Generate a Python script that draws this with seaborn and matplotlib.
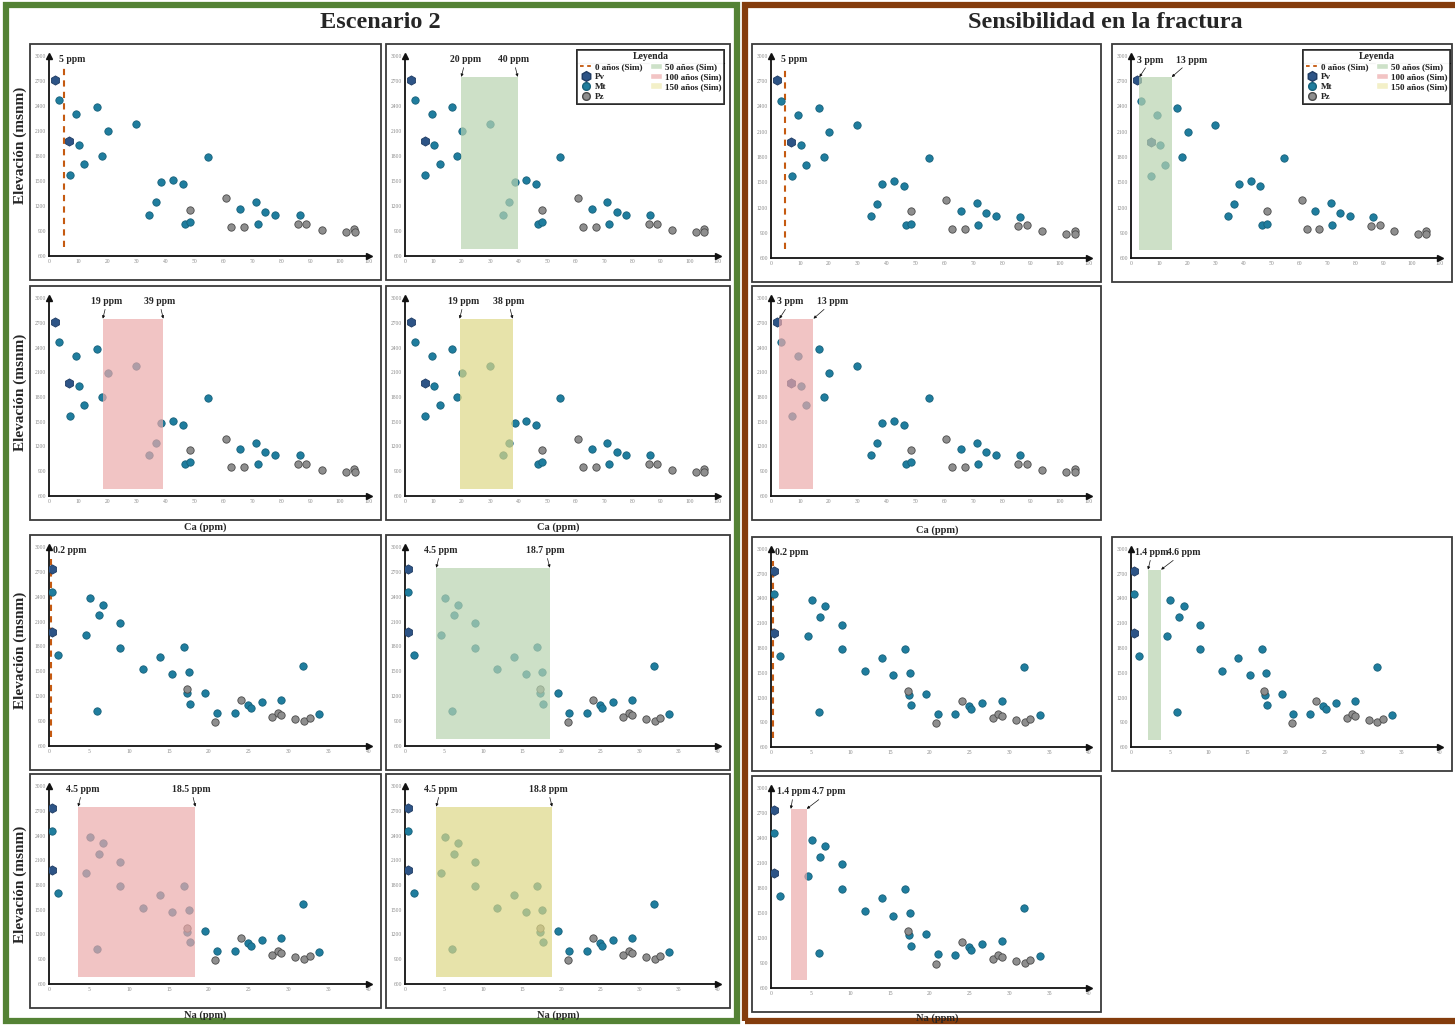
import pandas as pd
import seaborn as sns
import matplotlib.pyplot as plt
from matplotlib.patches import Rectangle, Patch
from matplotlib.lines import Line2D

# Ca (ppm) vs elevación
ca_pv_x = [2.0, 7.0]
ca_pv_y = [2710, 1975]
ca_mt_x = [3.4, 9.4, 16.5, 10.3, 20.2, 29.8, 18.3, 12.2, 7.1, 54.6, 38.5, 42.6,
           46.0, 36.7, 34.5, 46.7, 48.3, 65.6, 71.1, 71.7, 74.4, 77.8, 86.2]
ca_mt_y = [2467, 2298, 2384, 1937, 2096, 2180, 1800, 1708, 1571, 1784, 1484, 1512,
           1460, 1243, 1096, 987, 1007, 1164, 1248, 987, 1132, 1096, 1092]
ca_pz_x = [48.3, 60.7, 62.7, 67.1, 85.6, 88.5, 93.7, 102.2, 105.0, 105.1]
ca_pz_y = [1156, 1292, 950, 950, 983, 990, 918, 890, 922, 886]

# Na (ppm) vs elevación
na_pv_x = [0.4, 0.4]
na_pv_y = [2732, 1980]
na_mt_x = [0.4, 1.1, 5.1, 4.6, 6.2, 6.8, 8.9, 8.9, 6.0, 11.8, 13.9, 15.4, 16.9,
           17.5, 17.3, 17.6, 19.5, 21.0, 23.2, 24.9, 25.2, 26.6, 29.0, 31.8, 33.8]
na_mt_y = [2460, 1700, 2380, 1944, 2176, 2304, 2084, 1784, 1020, 1524, 1676, 1468, 1792,
           1496, 1236, 1104, 1244, 1004, 996, 1096, 1056, 1132, 1160, 1564, 984]
na_pz_x = [17.2, 20.8, 24.0, 27.9, 28.6, 29.0, 30.8, 31.9, 32.6]
na_pz_y = [1284, 888, 1152, 948, 1000, 972, 928, 900, 936]

ca_ticks = list(range(0, 111, 10))
na_ticks = list(range(0, 41, 5))
elev_ticks = list(range(600, 3001, 300))

# simulaciones: umbral 0 años y rangos 50/100/150 años
ca_line, na_line = 5, 0.2
esc_ca_spans = [(19.8, 39.6), (18.5, 39.3), (19.2, 37.8)]
esc_ca_labels = [("20 ppm", "40 ppm"), ("19 ppm", "39 ppm"), ("19 ppm", "38 ppm")]
esc_na_spans = [(4.0, 18.5), (3.65, 18.3), (4.0, 18.8)]
esc_na_labels = [("4.5 ppm", "18.7 ppm"), ("4.5 ppm", "18.5 ppm"), ("4.5 ppm", "18.8 ppm")]
sen_ca_spans = [(3.0, 14.5), (2.9, 14.7)]
sen_ca_labels = [("3 ppm", "13 ppm"), ("3 ppm", "13 ppm")]
sen_na_spans = [(2.2, 3.9), (2.5, 4.5)]
sen_na_labels = [("1.4 ppm", "4.6 ppm"), ("1.4 ppm", "4.7 ppm")]
span_elev = (690, 2750)


def make_df(pv_x, pv_y, mt_x, mt_y, pz_x, pz_y):
    return pd.concat([
        pd.DataFrame({'x': pv_x, 'elev': pv_y, 'tipo': 'Pv'}),
        pd.DataFrame({'x': mt_x, 'elev': mt_y, 'tipo': 'Mt'}),
        pd.DataFrame({'x': pz_x, 'elev': pz_y, 'tipo': 'Pz'}),
    ], ignore_index=True)


ca_df = make_df(ca_pv_x, ca_pv_y, ca_mt_x, ca_mt_y, ca_pz_x, ca_pz_y)
na_df = make_df(na_pv_x, na_pv_y, na_mt_x, na_mt_y, na_pz_x, na_pz_y)

sns.set_theme(style='white')
plt.rcParams['font.family'] = ['Liberation Serif', 'DejaVu Serif']

W, H = 1455, 1025
fig = plt.figure(figsize=(W / 100, H / 100), dpi=100)
fig.patch.set_facecolor('white')

pt_style = {
    'Pv': dict(color='#2d5486', marker='h', s=44, edgecolor='#1f3c63'),
    'Mt': dict(color='#1f7d9e', marker='o', s=28, edgecolor='#17607a'),
    'Pz': dict(color='#8e8e8e', marker='o', s=28, edgecolor='#4a4a4a'),
}
sim_col = {'50': '#b8d4b0', '100': '#ecabab', '150': '#ded886'}
line_col = '#c55a11'


def fbox(x0, y0, x1, y1):
    return [x0 / W, 1 - y1 / H, (x1 - x0) / W, (y1 - y0) / H]


def frame(x0, y0, x1, y1, color, lw):
    fig.add_artist(Rectangle((x0 / W, 1 - y1 / H), (x1 - x0) / W, (y1 - y0) / H,
                             transform=fig.transFigure, fill=False, ec=color, lw=lw))


def panel(x0, y0, x1, y1, df, xticks, sim=None):
    frame(x0, y0, x1, y1, '#3a3a3a', 1.3)
    ax = fig.add_axes(fbox(x0 + 19, y0 + 12, x1 - 12, y1 - 24))
    ax.set_facecolor('none')
    for tipo in ['Mt', 'Pz', 'Pv']:
        st = pt_style[tipo]
        sns.scatterplot(data=df[df.tipo == tipo], x='x', y='elev', ax=ax, color=st['color'],
                        marker=st['marker'], s=st['s'], edgecolor=st['edgecolor'],
                        linewidth=0.6, zorder=3, legend=False)
    ax.set_xlim(xticks[0], xticks[-1])
    ax.set_ylim(600, 3000)
    ax.set_xticks(xticks)
    ax.set_yticks(elev_ticks)
    ax.tick_params(length=0, labelsize=4, colors='#888888', pad=2)
    ax.set_xlabel('')
    ax.set_ylabel('')
    for s in ['top', 'right']:
        ax.spines[s].set_visible(False)
    for s in ['left', 'bottom']:
        ax.spines[s].set_color('#111111')
        ax.spines[s].set_linewidth(1.3)
    ax.plot(1, 0, '>', color='#111111', ms=4, transform=ax.transAxes, clip_on=False)
    ax.plot(0, 1, '^', color='#111111', ms=4, transform=ax.transAxes, clip_on=False)

    if sim is None:
        return ax
    if sim[0] == 'line':
        _, xv, lab, dx = sim
        ax.plot([xv, xv], [710, 2850], ls=(0, (3, 2.5)), color=line_col, lw=1.5, zorder=2)
        ax.annotate(lab, xy=(xv, 2850), xytext=(dx, 3), textcoords='offset points',
                    ha='left', va='bottom', fontsize=7, weight='bold')
    else:
        _, (lo, hi), (la, lb), key, (dxa, dxb) = sim
        ax.fill_between([lo, hi], span_elev[0], span_elev[1], color=sim_col[key],
                        alpha=0.7, lw=0, zorder=4)
        for xv, lab, dx in [(lo, la, dxa), (hi, lb, dxb)]:
            ax.annotate(lab, xy=(xv, span_elev[1]), xytext=(dx, 9), textcoords='offset points',
                        ha='center', va='bottom', fontsize=7, weight='bold',
                        arrowprops=dict(arrowstyle='-|>', lw=0.5, color='#111111',
                                        mutation_scale=4, shrinkA=0, shrinkB=0))
    return ax


# marcos exteriores y títulos
frame(6, 5, 737, 1021, '#548235', 4.5)
frame(745, 5, 1462, 1021, '#843c0c', 4.5)
fig.text(380 / W, 1 - 23 / H, 'Escenario 2', ha='center', va='center',
         fontsize=17.5, weight='bold')
fig.text(1105 / W, 1 - 23 / H, 'Sensibilidad en la fractura', ha='center', va='center',
         fontsize=17.5, weight='bold')

# Escenario 2
ecols = [(30, 381), (386, 730)]
erows = [(44, 280), (286, 520), (535, 770), (774, 1008)]
wide = (3, -3)
esc_specs = [
    (0, 0, ca_df, ca_ticks, ('line', ca_line, '5 ppm', -3)),
    (0, 1, ca_df, ca_ticks, ('span', esc_ca_spans[0], esc_ca_labels[0], '50', wide)),
    (1, 0, ca_df, ca_ticks, ('span', esc_ca_spans[1], esc_ca_labels[1], '100', wide)),
    (1, 1, ca_df, ca_ticks, ('span', esc_ca_spans[2], esc_ca_labels[2], '150', wide)),
    (2, 0, na_df, na_ticks, ('line', na_line, '0.2 ppm', 2)),
    (2, 1, na_df, na_ticks, ('span', esc_na_spans[0], esc_na_labels[0], '50', wide)),
    (3, 0, na_df, na_ticks, ('span', esc_na_spans[1], esc_na_labels[1], '100', wide)),
    (3, 1, na_df, na_ticks, ('span', esc_na_spans[2], esc_na_labels[2], '150', wide)),
]
for r, c, df, xt, sim in esc_specs:
    x0, x1 = ecols[c]
    y0, y1 = erows[r]
    panel(x0, y0, x1, y1, df, xt, sim)

for (y0, y1), yc in zip(erows, [145, 392, 650, 884]):
    fig.text(20 / W, 1 - yc / H, 'Elevación (msnm)', rotation=90,
             ha='center', va='center', fontsize=11, weight='bold')
for x0, x1 in ecols:
    fig.text((x0 + x1) / 2 / W, 1 - 527 / H, 'Ca (ppm)', ha='center', va='center',
             fontsize=7.5, weight='bold')
    fig.text((x0 + x1) / 2 / W, 1 - 1015 / H, 'Na (ppm)', ha='center', va='center',
             fontsize=7.5, weight='bold')

# Sensibilidad en la fractura
scols = [(752, 1101), (1112, 1452)]
srows = [(44, 282), (286, 520), (537, 771), (776, 1012)]
sen_specs = [
    (0, 0, ca_df, ca_ticks, ('line', ca_line, '5 ppm', -3)),
    (0, 1, ca_df, ca_ticks, ('span', sen_ca_spans[0], sen_ca_labels[0], '50', (8, 14))),
    (1, 0, ca_df, ca_ticks, ('span', sen_ca_spans[1], sen_ca_labels[1], '100', (8, 14))),
    (2, 0, na_df, na_ticks, ('line', na_line, '0.2 ppm', 2)),
    (2, 1, na_df, na_ticks, ('span', sen_na_spans[0], sen_na_labels[0], '50', (3, 16))),
    (3, 0, na_df, na_ticks, ('span', sen_na_spans[1], sen_na_labels[1], '100', (2, 16))),
]
for r, c, df, xt, sim in sen_specs:
    x0, x1 = scols[c]
    y0, y1 = srows[r]
    panel(x0, y0, x1, y1, df, xt, sim)

fig.text(937 / W, 1 - 530 / H, 'Ca (ppm)', ha='center', va='center', fontsize=7.5, weight='bold')
fig.text(937 / W, 1 - 1018 / H, 'Na (ppm)', ha='center', va='center', fontsize=7.5, weight='bold')

# leyenda
handles = [
    Line2D([0], [0], color=line_col, ls=(0, (2, 2)), lw=1.3, label='0 años (Sim)'),
    Line2D([0], [0], marker='h', ls='none', markerfacecolor=pt_style['Pv']['color'],
           markeredgecolor=pt_style['Pv']['edgecolor'], ms=7, label='Pv'),
    Line2D([0], [0], marker='o', ls='none', markerfacecolor=pt_style['Mt']['color'],
           markeredgecolor=pt_style['Mt']['edgecolor'], ms=5.5, label='Mt'),
    Line2D([0], [0], marker='o', ls='none', markerfacecolor=pt_style['Pz']['color'],
           markeredgecolor=pt_style['Pz']['edgecolor'], ms=5.5, label='Pz'),
    Patch(facecolor='#cde1c8', label='50 años (Sim)'),
    Patch(facecolor='#f2c4c4', label='100 años (Sim)'),
    Patch(facecolor='#f3f0c8', label='150 años (Sim)'),
]
legends = []
for ax_right, ax_top in [(729, 45), (1455, 45)]:
    leg = fig.legend(handles=handles, title='Leyenda', ncol=2, loc='upper right',
                     bbox_to_anchor=(ax_right / W, 1 - ax_top / H),
                     title_fontsize=7, frameon=True, fancybox=False, edgecolor='#111111',
                     handlelength=1.3, handleheight=0.8, columnspacing=0.8,
                     labelspacing=0.15, borderpad=0.3, handletextpad=0.4,
                     prop={'weight': 'bold', 'size': 6.5})
    leg.get_frame().set_linewidth(1.2)
    leg.get_title().set_fontweight('bold')
    fig.add_artist(leg)
    legends.append(leg)

# línea bajo el título de la leyenda
fig.canvas.draw()
inv = fig.transFigure.inverted()
for leg in legends:
    box = leg.get_window_extent()
    tb = leg.get_title().get_window_extent()
    (lx0, ly), (lx1, _) = inv.transform([(box.x0, tb.y0 - 1.5), (box.x1, tb.y0)])
    fig.add_artist(Line2D([lx0, lx1], [ly, ly], transform=fig.transFigure,
                          color='#111111', lw=0.9))

fig.savefig('out.png', dpi=100, facecolor='white')
